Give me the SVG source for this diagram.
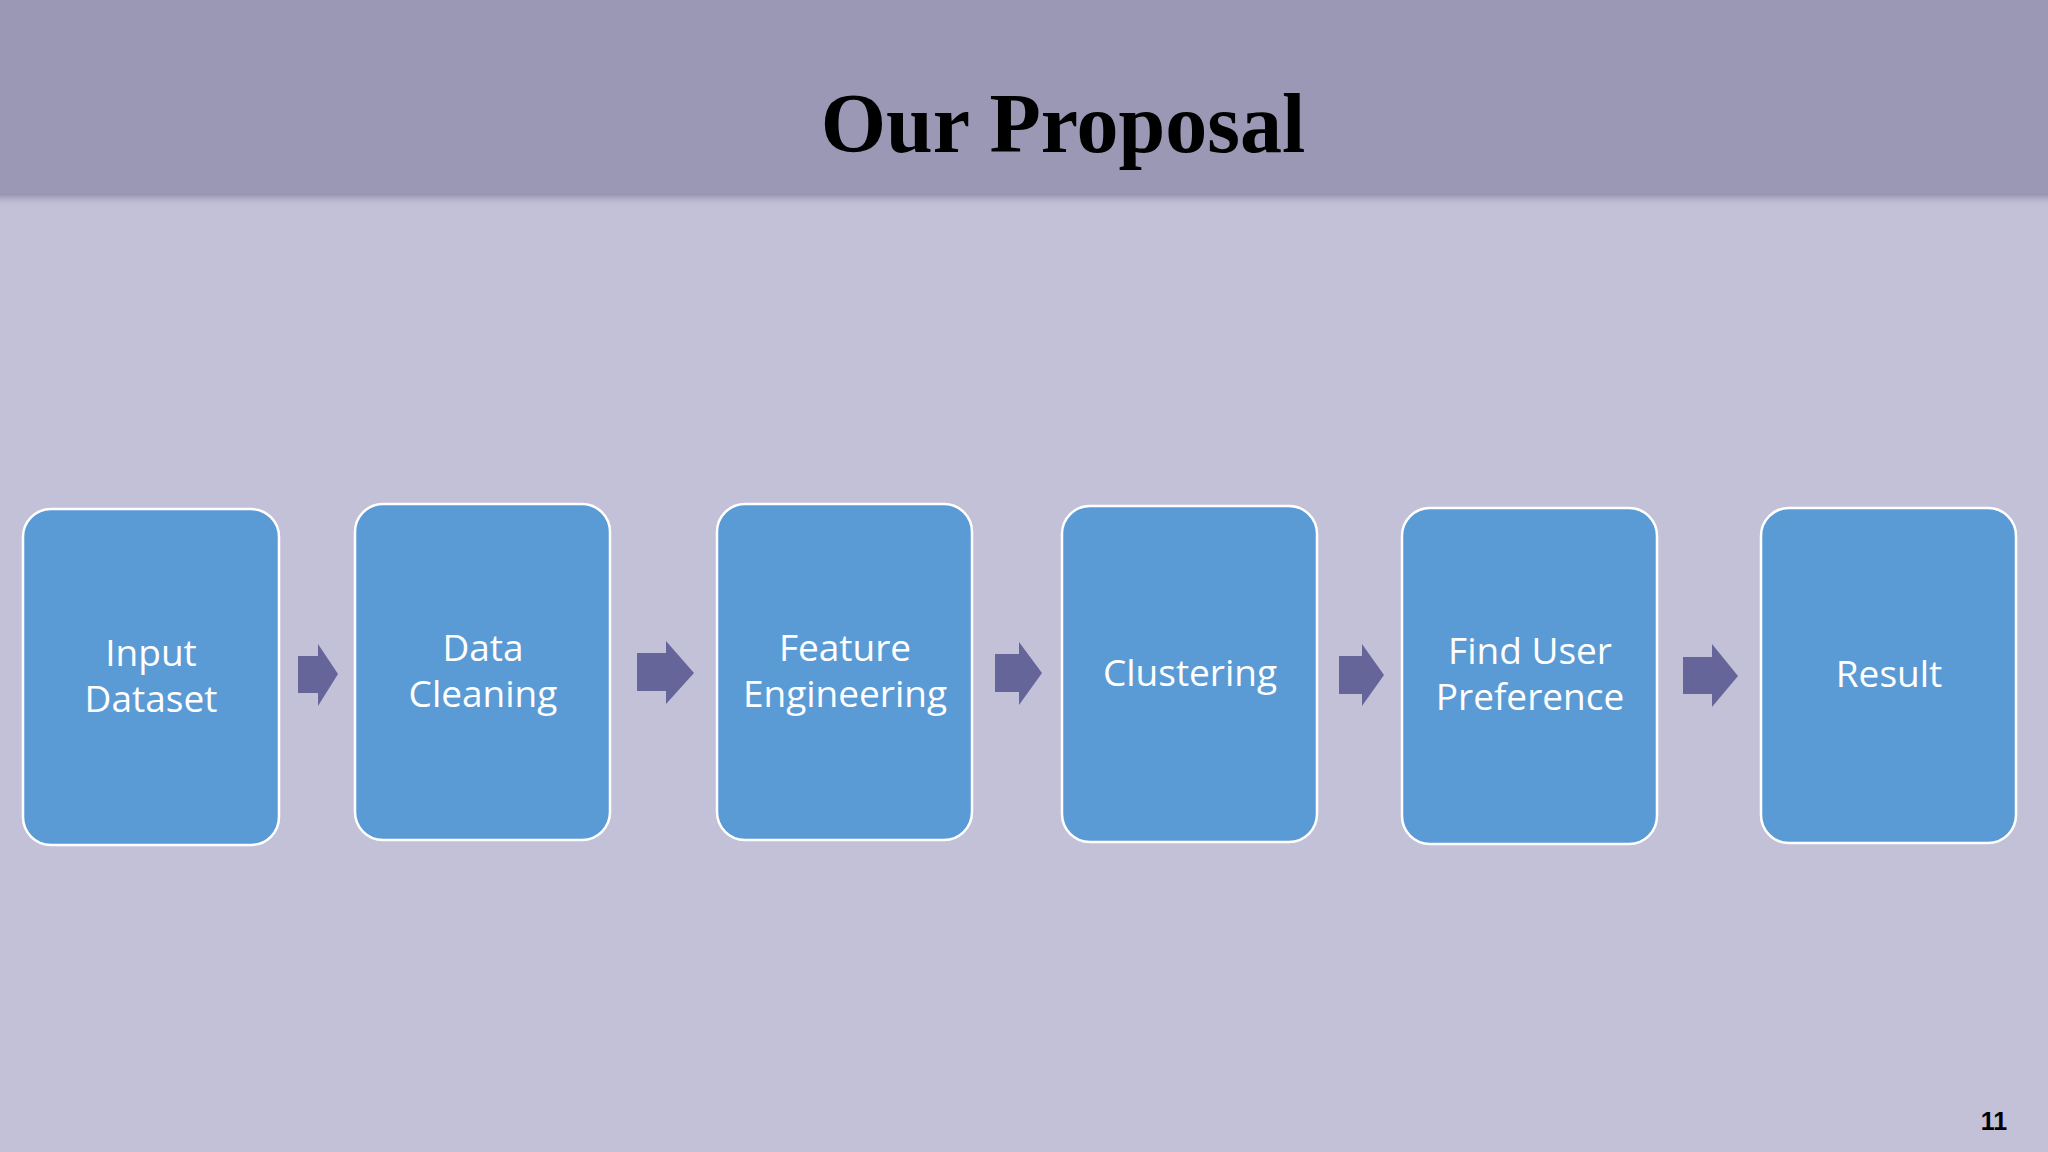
<svg xmlns="http://www.w3.org/2000/svg" width="2048" height="1152" viewBox="0 0 2048 1152">
  <defs>
    <linearGradient id="shadow" x1="0" y1="0" x2="0" y2="1">
      <stop offset="0" stop-color="#7f7c9c" stop-opacity="0.8"/>
      <stop offset="1" stop-color="#c3c1d8" stop-opacity="0"/>
    </linearGradient>
    <style>
      .box { fill: #5b9bd5; stroke: #ffffff; stroke-width: 2.5; }
      .lbl { font-family: "Open Sans", "Liberation Sans", sans-serif; font-size: 37px; fill: #ffffff; text-anchor: middle; }
      .arr { fill: #65659a; }
    </style>
  </defs>
  <rect x="0" y="0" width="2048" height="1152" fill="#c3c1d8"/>
  <rect x="0" y="193" width="2048" height="14" fill="url(#shadow)"/>
  <rect x="0" y="0" width="2048" height="194" fill="#9a98b5"/>
  <text x="1063" y="152" font-family="'Liberation Serif', serif" font-weight="bold" font-size="84" fill="#000000" text-anchor="middle">Our Proposal</text>

  <g id="node-input">
    <rect class="box" x="23" y="509" width="256" height="336" rx="28"/>
    <text class="lbl" x="151" y="666">Input</text>
    <text class="lbl" x="151" y="712">Dataset</text>
  </g>
  <g id="node-cleaning">
    <rect class="box" x="355" y="504" width="255" height="336" rx="28"/>
    <text class="lbl" x="483" y="661">Data</text>
    <text class="lbl" x="483" y="707">Cleaning</text>
  </g>
  <g id="node-feature">
    <rect class="box" x="717" y="504" width="255" height="336" rx="28"/>
    <text class="lbl" x="845" y="661">Feature</text>
    <text class="lbl" x="845" y="707">Engineering</text>
  </g>
  <g id="node-clustering">
    <rect class="box" x="1062" y="506" width="255" height="336" rx="28"/>
    <text class="lbl" x="1190" y="686">Clustering</text>
  </g>
  <g id="node-preference">
    <rect class="box" x="1402" y="508" width="255" height="336" rx="28"/>
    <text class="lbl" x="1530" y="664">Find User</text>
    <text class="lbl" x="1530" y="710">Preference</text>
  </g>
  <g id="node-result">
    <rect class="box" x="1761" y="508" width="255" height="335" rx="28"/>
    <text class="lbl" x="1889" y="687">Result</text>
  </g>

  <g id="connectors">
    <polygon class="arr" points="298,656 318,656 318,644 338,674 318,706 318,693 298,693"/>
    <polygon class="arr" points="637,653 666,653 666,641 694,673 666,704 666,691 637,691"/>
    <polygon class="arr" points="995,654 1019,654 1019,642 1042,673 1019,705 1019,692 995,692"/>
    <polygon class="arr" points="1339,656 1362,656 1362,644 1384,675 1362,706 1362,694 1339,694"/>
    <polygon class="arr" points="1683,657 1712,657 1712,644 1738,676 1712,707 1712,694 1683,694"/>
  </g>

  <text x="1994" y="1130" font-family="'Liberation Sans', sans-serif" font-weight="bold" font-size="25" fill="#000000" text-anchor="middle">11</text>
</svg>
